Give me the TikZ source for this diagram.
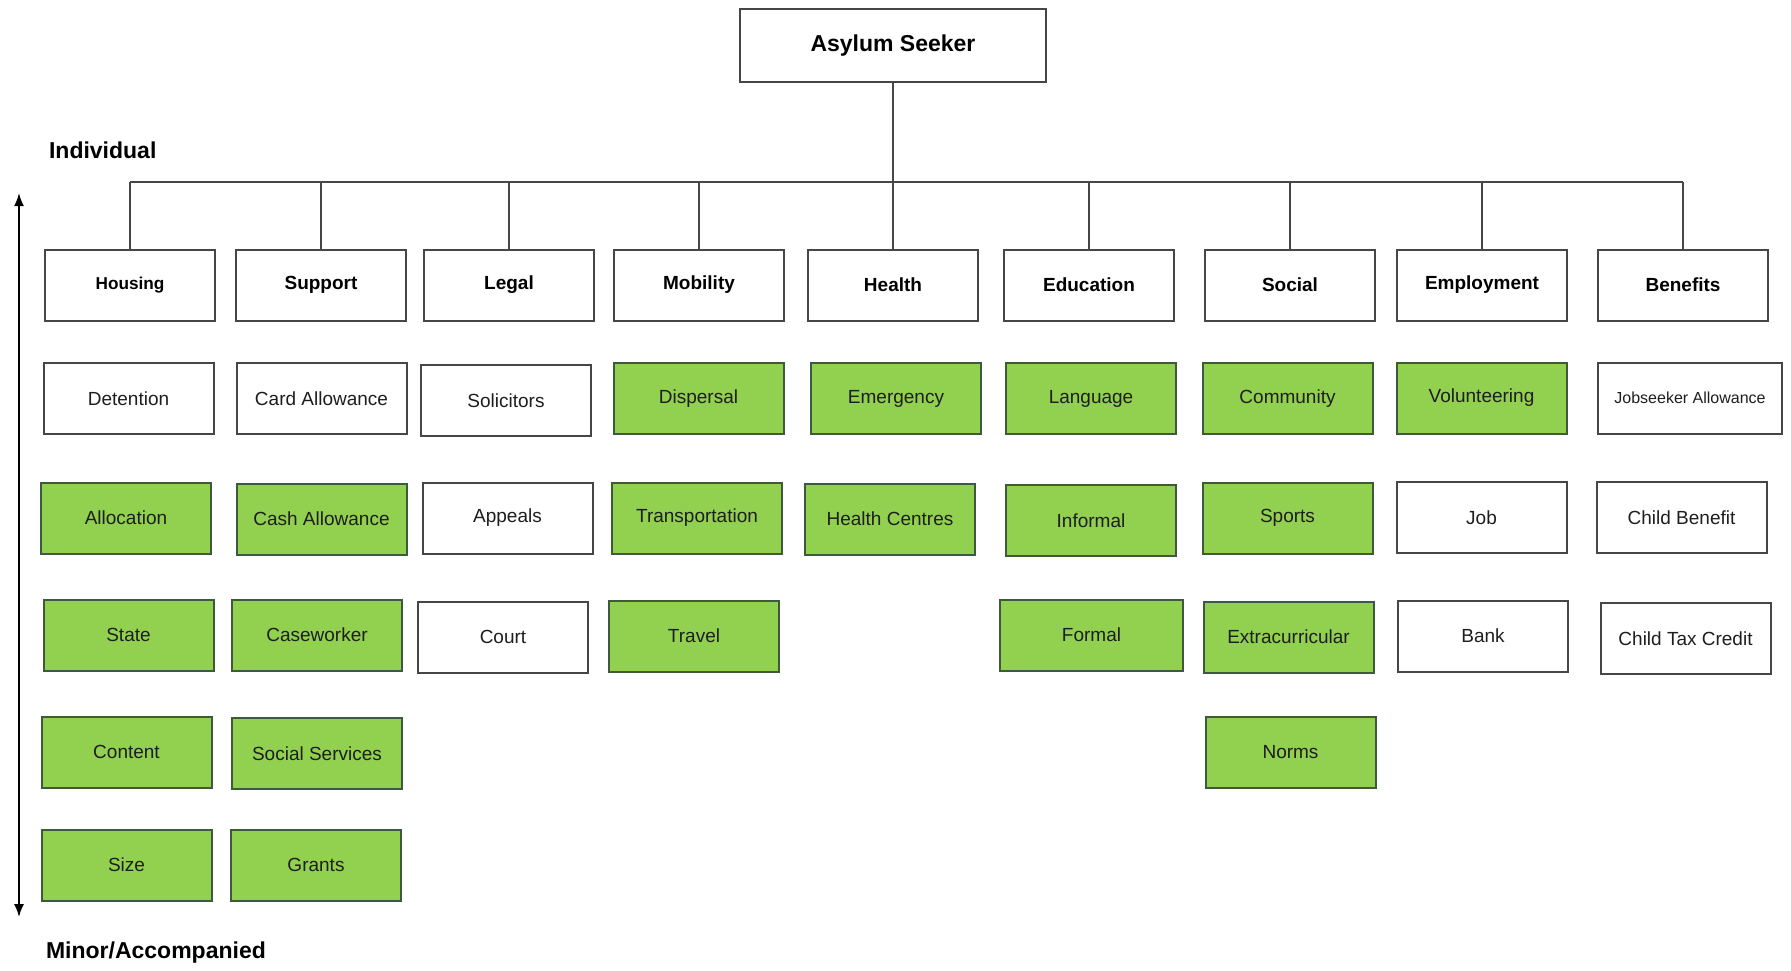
\documentclass[tikz,border=0pt]{standalone}
\usepackage{fontspec}
\setmainfont{Liberation Sans}
\usetikzlibrary{arrows.meta}
\definecolor{leaf}{RGB}{146,208,80}
\definecolor{edge}{RGB}{70,70,70}
\definecolor{ink}{RGB}{30,30,30}
\tikzset{
  cell/.style={draw=edge, line width=1pt, fill=white, minimum width=85pt,
    minimum height=35.5pt, inner sep=0pt, text=ink,
    font=\fontsize{9.5}{11}\selectfont},
  head/.style={cell, font=\fontsize{9.5}{11}\selectfont\bfseries, text=black},
  green/.style={cell, fill=leaf, draw=edge!90!green},
  link/.style={draw=edge, line width=1pt},
  side/.style={anchor=west, font=\fontsize{11.5}{13}\selectfont\bfseries, text=black}
}
\begin{document}
\begin{tikzpicture}[x=0.5pt, y=-0.5pt]
\useasboundingbox (0,0) rectangle (1791,970);

% root
\node[cell, minimum width=153pt, minimum height=36.5pt,
  font=\fontsize{11.5}{13}\selectfont\bfseries, text=black] (root) at (893,45.5) {Asylum Seeker};

% category headers
\node[head, font=\fontsize{8.6}{10}\selectfont\bfseries] (housing) at (130,285) {Housing};
\node[head] (support)   at (321,285)  {Support};
\node[head] (legal)     at (509,285)  {Legal};
\node[head] (mobility)  at (699,285)  {Mobility};
\node[head] (health)    at (893,285)  {Health};
\node[head] (education) at (1089,285) {Education};
\node[head] (social)    at (1290,285) {Social};
\node[head] (employ)    at (1482,285) {Employment};
\node[head] (benefits)  at (1683,285) {Benefits};

% tree connectors
\coordinate (bus) at (0,182);
\draw[link] (root.south) -- (root.south |- bus);
\draw[link] (housing.north |- bus) -- (benefits.north |- bus);
\foreach \n in {housing,support,legal,mobility,health,education,social,employ,benefits}
  \draw[link] (\n.north |- bus) -- (\n.north);

% housing
\node[cell]  (detention)  at (128.5,398.5) {Detention};
\node[green] (allocation) at (126,518)   {Allocation};
\node[green] (state)      at (128.5,635) {State};
\node[green] (content)    at (126.5,752) {Content};
\node[green] (size)       at (126.5,865) {Size};

% support
\node[cell]  (card)     at (321.5,398.5) {Card Allowance};
\node[green] (cash)     at (321.5,519)   {Cash Allowance};
\node[green] (casew)    at (317,635)     {Caseworker};
\node[green] (socserv)  at (317,753.5)   {Social Services};
\node[green] (grants)   at (316,865)     {Grants};

% legal
\node[cell] (solicitors) at (506,400.5) {Solicitors};
\node[cell] (appeals)    at (507.5,518) {Appeals};
\node[cell] (court)      at (503,637)   {Court};

% mobility
\node[green] (dispersal) at (698.5,398.5) {Dispersal};
\node[green] (transport) at (697,518)     {Transportation};
\node[green] (travel)    at (694,636)     {Travel};

% health
\node[green] (emergency) at (896,398.5) {Emergency};
\node[green] (hcentres)  at (890,519)   {Health Centres};

% education
\node[green] (language) at (1091,398.5) {Language};
\node[green] (informal) at (1091,520.5) {Informal};
\node[green, minimum width=91.5pt] (formal) at (1091.5,635) {Formal};

% social
\node[green] (community) at (1287.5,398.5) {Community};
\node[green] (sports)    at (1287.5,518)   {Sports};
\node[green] (extra)     at (1288.5,637)   {Extracurricular};
\node[green] (norms)     at (1290.5,752)   {Norms};

% employment
\node[green] (volunteer) at (1481.5,398) {Volunteering};
\node[cell]  (job)       at (1481.5,517.5) {Job};
\node[cell]  (bank)      at (1483,636)   {Bank};

% benefits
\node[cell, minimum width=92pt, font=\fontsize{8}{9.5}\selectfont] (jobseeker) at (1690,398) {Jobseeker Allowance};
\node[cell] (childben) at (1681.5,517.5) {Child Benefit};
\node[cell] (childtax) at (1685.5,638.5) {Child Tax Credit};

% scale from individual to minor/accompanied
\node[side] (indiv) at (42,150) {Individual};
\node[side] (minor) at (39,953) {Minor/Accompanied};
\coordinate (top) at (19,193);
\coordinate (bottom) at (19,917);
\draw[line width=0.9pt, black, {Latex[length=6.5pt,width=5pt]}-{Latex[length=6.5pt,width=5pt]}] (top) -- (bottom);
\end{tikzpicture}
\end{document}
